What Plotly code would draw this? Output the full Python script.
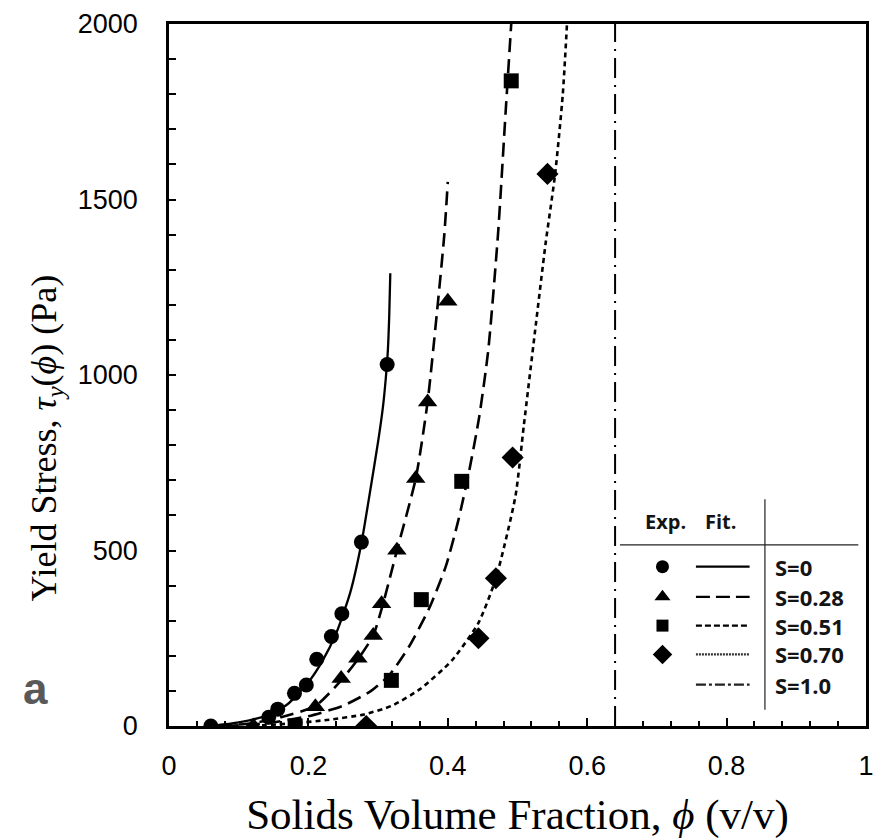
import plotly.graph_objects as go

# ---------------- data ----------------
series_labels = ["S=0", "S=0.28", "S=0.51", "S=0.70", "S=1.0"]

# experimental points
exp_s0_x = [0.060, 0.143, 0.156, 0.180, 0.197, 0.212, 0.233, 0.248, 0.276, 0.313]
exp_s0_y = [0, 25, 48, 93, 117, 190, 255, 320, 524, 1030]

exp_s028_x = [0.121, 0.210, 0.247, 0.271, 0.293, 0.305, 0.327, 0.354, 0.371, 0.400]
exp_s028_y = [0, 55, 135, 193, 258, 348, 501, 705, 923, 1210]

exp_s051_x = [0.181, 0.319, 0.362, 0.420, 0.491]
exp_s051_y = [0, 130, 360, 697, 1838]

exp_s070_x = [0.283, 0.444, 0.469, 0.493, 0.543]
exp_s070_y = [0, 250, 421, 765, 1573]

# fitted curves
fit_s0_x = [0.060, 0.100, 0.140, 0.170, 0.200, 0.220, 0.240, 0.260, 0.276, 0.287, 0.300, 0.307, 0.311, 0.314, 0.316, 0.3175]
fit_s0_y = [0, 10, 30, 62, 125, 185, 265, 380, 520, 650, 810, 910, 990, 1070, 1170, 1290]

fit_s028_x = [0.070, 0.120, 0.160, 0.210, 0.247, 0.271, 0.293, 0.306, 0.327, 0.354, 0.371, 0.386, 0.395, 0.400]
fit_s028_y = [0, 8, 25, 57, 130, 190, 258, 340, 500, 705, 923, 1210, 1400, 1550]

fit_s051_x = [0.080, 0.140, 0.200, 0.250, 0.290, 0.316, 0.344, 0.373, 0.397, 0.415, 0.430, 0.445, 0.458, 0.472, 0.483, 0.491]
fit_s051_y = [0, 8, 28, 58, 100, 145, 225, 334, 454, 585, 720, 880, 1070, 1400, 1750, 2000]

fit_s070_x = [0.120, 0.180, 0.230, 0.280, 0.320, 0.360, 0.406, 0.444, 0.469, 0.497, 0.509, 0.525, 0.540, 0.554, 0.565, 0.571]
fit_s070_y = [0, 8, 18, 33, 58, 105, 187, 294, 421, 654, 855, 1122, 1370, 1573, 1800, 2000]

phi_max_x = [0.64, 0.64]
phi_max_y = [0, 2000]

x_tick_vals = [0, 0.2, 0.4, 0.6, 0.8, 1]
x_tick_text = ["0", "0.2", "0.4", "0.6", "0.8", "1"]
y_tick_vals = [0, 500, 1000, 1500, 2000]
y_tick_text = ["0", "500", "1000", "1500", "2000"]

# ---------------- figure ----------------
fig = go.Figure()
BLACK = "#000000"

def fit_trace(x, y, dash, width=2.5):
    fig.add_trace(go.Scatter(x=x, y=y, mode="lines", line=dict(color=BLACK, width=width, dash=dash, shape="spline", smoothing=0.6),
                             showlegend=False, hoverinfo="skip"))

fit_trace(fit_s0_x, fit_s0_y, "solid", 2.3)
fit_trace(fit_s028_x, fit_s028_y, "14px,7px", 2.6)
fit_trace(fit_s051_x, fit_s051_y, "14px,7px", 2.6)
fit_trace(fit_s070_x, fit_s070_y, "5px,4px", 2.6)
fig.add_trace(go.Scatter(x=phi_max_x, y=phi_max_y, mode="lines",
                         line=dict(color=BLACK, width=2, dash="20px,7px,2px,7px"),
                         showlegend=False, hoverinfo="skip"))

def exp_trace(x, y, symbol, size):
    fig.add_trace(go.Scatter(x=x, y=y, mode="markers",
                             marker=dict(symbol=symbol, size=size, color=BLACK, line=dict(width=0)),
                             showlegend=False, hoverinfo="skip"))

exp_trace(exp_s0_x, exp_s0_y, "circle", 15)
exp_trace(exp_s028_x, exp_s028_y, "triangle-up", 17)
exp_trace(exp_s051_x, exp_s051_y, "square", 15)
exp_trace(exp_s070_x, exp_s070_y, "diamond", 17)

# ---------------- legend table (overlay axes in plot-fraction units) ----------------
leg_rows_y = [0.227, 0.184, 0.143, 0.102, 0.059]
leg_symbols = ["circle", "triangle-up", "square", "diamond", None]
leg_sym_sizes = [13, 14, 12, 15, 0]
leg_dashes = ["solid", "14px,6px", "6px,3px", "2px,1px", "10px,3px,3px,3px"]
leg_colors = [BLACK, BLACK, BLACK, "#333333", "#222222"]

for ry, sym, ss, dash, lc in zip(leg_rows_y, leg_symbols, leg_sym_sizes, leg_dashes, leg_colors):
    if sym:
        fig.add_trace(go.Scatter(x=[0.708], y=[ry], mode="markers", xaxis="x2", yaxis="y2",
                                 marker=dict(symbol=sym, size=ss, color=BLACK, line=dict(width=0)),
                                 showlegend=False, hoverinfo="skip"))
    fig.add_trace(go.Scatter(x=[0.756, 0.833], y=[ry, ry], mode="lines", xaxis="x2", yaxis="y2",
                             line=dict(color=lc, width=2.2, dash=dash),
                             showlegend=False, hoverinfo="skip"))

# table rules
fig.add_trace(go.Scatter(x=[0.647, 0.989], y=[0.258, 0.258], mode="lines", xaxis="x2", yaxis="y2",
                         line=dict(color="#222222", width=1.2), showlegend=False, hoverinfo="skip"))
fig.add_trace(go.Scatter(x=[0.855, 0.855], y=[0.323, 0.023], mode="lines", xaxis="x2", yaxis="y2",
                         line=dict(color="#222222", width=1.2), showlegend=False, hoverinfo="skip"))

LEG_FONT = dict(family="Open Sans, Lato, Arial", size=22, color="#141414")
HEAD_FONT = dict(family="Open Sans, Lato, Arial", size=20, color="#141414")
annotations = []
for ry, lab in zip(leg_rows_y, series_labels):
    annotations.append(dict(x=0.866, y=ry, xref="x2", yref="y2", text="<b>%s</b>" % lab,
                            showarrow=False, xanchor="left", yanchor="middle", font=LEG_FONT))
annotations.append(dict(x=0.712, y=0.291, xref="x2", yref="y2", text="<b>Exp.</b>",
                        showarrow=False, xanchor="center", yanchor="middle", font=HEAD_FONT))
annotations.append(dict(x=0.791, y=0.291, xref="x2", yref="y2", text="<b>Fit.</b>",
                        showarrow=False, xanchor="center", yanchor="middle", font=HEAD_FONT))
# panel label
annotations.append(dict(x=-0.212, y=0.053, xref="paper", yref="paper", text="<b>a</b>",
                        showarrow=False, xanchor="left", yanchor="middle",
                        font=dict(family="Liberation Sans, Arial", size=44, color="#595959")))
# y-axis title (rotated annotation so it can be placed like the reference)
annotations.append(dict(x=-0.176, y=0.41, xref="paper", yref="paper", textangle=-90,
                        text="Yield Stress, <i>τ<sub>y</sub></i>(<i>ϕ</i>) (Pa)",
                        showarrow=False, xanchor="center", yanchor="middle",
                        font=dict(family="Liberation Serif, Times New Roman", size=36, color=BLACK)))

fig.update_layout(
    width=883, height=840,
    margin=dict(l=169, r=9, t=20, b=114, pad=0),
    paper_bgcolor="white", plot_bgcolor="white",
    font=dict(family="Liberation Sans, Arial", size=27, color=BLACK),
    xaxis=dict(range=[0, 1], tickvals=x_tick_vals, ticktext=x_tick_text,
               ticks="inside", ticklen=8, tickwidth=2, tickcolor=BLACK,
               minor=dict(dtick=0.04, tick0=0, ticks="inside", ticklen=5, tickwidth=2, tickcolor=BLACK),
               showline=True, linecolor=BLACK, linewidth=2.5, mirror=True,
               showgrid=False, zeroline=False, ticklabelstandoff=14,
               tickfont=dict(family="Liberation Sans, Arial", size=27),
               title=dict(text="Solids Volume Fraction, <i>ϕ</i> (v/v)",
                          font=dict(family="Liberation Serif, Times New Roman", size=43), standoff=19)),
    yaxis=dict(range=[0, 2000], tickvals=y_tick_vals, ticktext=y_tick_text,
               ticks="inside", ticklen=7, tickwidth=2, tickcolor=BLACK,
               minor=dict(dtick=100, tick0=0, ticks="inside", ticklen=7, tickwidth=2, tickcolor=BLACK),
               showline=True, linecolor=BLACK, linewidth=2.5, mirror=True,
               showgrid=False, zeroline=False, ticklabelstandoff=23,
               tickfont=dict(family="Liberation Sans, Arial", size=27)),
    xaxis2=dict(range=[0, 1], overlaying="x", visible=False, fixedrange=True),
    yaxis2=dict(range=[0, 1], overlaying="y", visible=False, fixedrange=True),
    annotations=annotations,
    showlegend=False,
)

fig.write_html("out.html")
